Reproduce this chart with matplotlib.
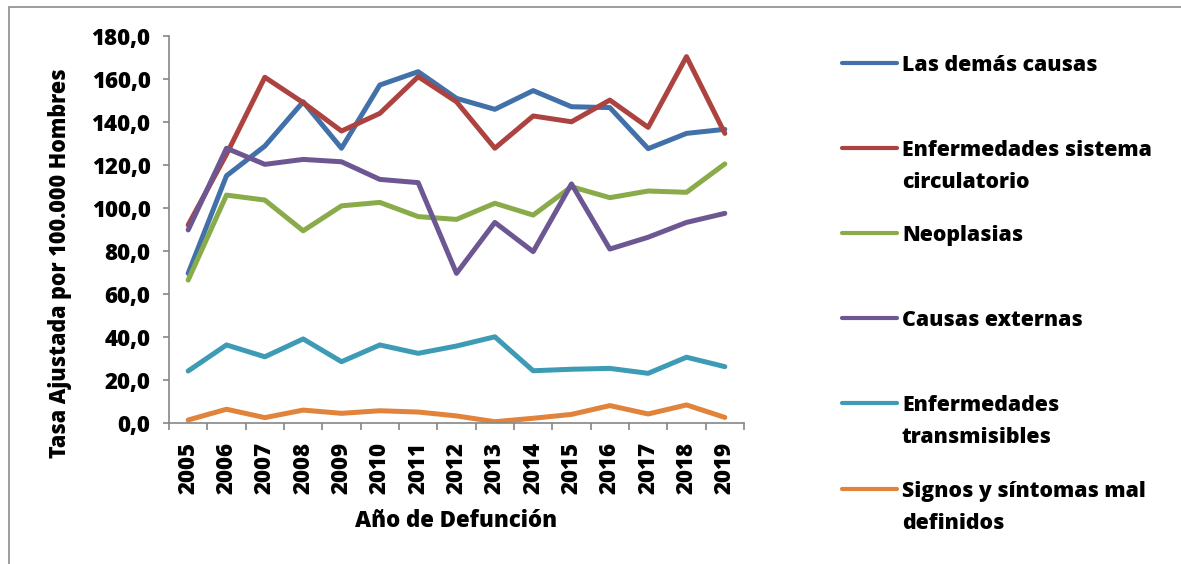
import matplotlib
matplotlib.use("Agg")
import matplotlib.pyplot as plt
from matplotlib.lines import Line2D
from matplotlib.patches import Rectangle

plt.rcParams['font.family'] = ['Open Sans', 'DejaVu Sans']
plt.rcParams['font.weight'] = 'bold'

years = ['2005', '2006', '2007', '2008', '2009', '2010', '2011', '2012',
         '2013', '2014', '2015', '2016', '2017', '2018', '2019']

demas_causas = [69.6, 115.0, 128.8, 149.4, 127.8, 157.2, 163.4, 151.0,
                145.9, 154.6, 147.1, 146.7, 127.6, 134.7, 136.6]
circulatorio = [92.1, 125.0, 160.8, 149.0, 135.8, 144.0, 161.1, 149.4,
                127.8, 142.8, 140.1, 150.2, 137.5, 170.4, 134.7]
neoplasias = [66.5, 106.0, 103.7, 89.4, 101.0, 102.6, 96.0, 94.7,
              102.2, 96.7, 109.9, 104.8, 107.9, 107.3, 120.5]
externas = [89.8, 127.8, 120.3, 122.6, 121.5, 113.3, 111.8, 69.6,
            93.3, 79.7, 111.2, 80.9, 86.4, 93.3, 97.5]
transmisibles = [24.2, 36.3, 30.8, 39.1, 28.5, 36.3, 32.4, 35.8,
                 40.1, 24.3, 25.0, 25.4, 23.1, 30.6, 26.2]
mal_definidos = [1.4, 6.4, 2.5, 6.0, 4.5, 5.7, 5.1, 3.3,
                 0.6, 2.2, 4.0, 8.1, 4.2, 8.4, 2.6]

series = [
    ('Las demás causas', demas_causas, '#4271AA'),
    ('Enfermedades sistema\ncirculatorio', circulatorio, '#AD4340'),
    ('Neoplasias', neoplasias, '#8AAB4A'),
    ('Causas externas', externas, '#6D5792'),
    ('Enfermedades\ntransmisibles', transmisibles, '#3E9BB5'),
    ('Signos y síntomas mal\ndefinidos', mal_definidos, '#E1833A'),
]

W, H = 1181, 564
fig = plt.figure(figsize=(W / 100, H / 100), dpi=100)
ax = fig.add_axes([169 / W, 1 - 423 / H, 575 / W, 387 / H])

x = list(range(len(years)))
for name, vals, col in series:
    ax.plot(x, vals, color=col, lw=3.6, solid_capstyle='round', solid_joinstyle='round')

ax.set_xlim(-0.5, len(years) - 0.5)
ax.set_ylim(0, 180)
ax.set_yticks(range(0, 181, 20))
ax.set_yticklabels([f'{v},0' for v in range(0, 181, 20)])
ax.set_xticks(x)
ax.set_xticklabels(years, rotation=90)
ax.set_xticks([i - 0.5 for i in range(len(years) + 1)], minor=True)

for s in ['top', 'right']:
    ax.spines[s].set_visible(False)
for s in ['left', 'bottom']:
    ax.spines[s].set_color('#868686')
    ax.spines[s].set_linewidth(1.2)

ax.tick_params(axis='y', length=4.3, width=1.2, color='#868686', pad=9, labelsize=16)
ax.tick_params(axis='x', which='major', length=0, pad=13.5, labelsize=16)
ax.tick_params(axis='x', which='minor', length=5, width=1.2, color='#868686')
for lab in ax.get_xticklabels() + ax.get_yticklabels():
    lab.set_fontweight('heavy')

ax.set_ylabel('Tasa Ajustada por 100.000 Hombres', fontsize=15.5, fontweight='heavy')
ax.yaxis.set_label_coords(-0.169, 0.413)
fig.text(456.5 / W, 1 - 527 / H, 'Año de Defunción', fontsize=16, fontweight='heavy',
         ha='center', va='baseline')

# legend drawn by hand, line aligned with the first text row
leg_y = [63.3, 148.3, 233.3, 318.3, 403.3, 489.3]
for (name, vals, col), ly in zip(series, leg_y):
    fig.add_artist(Line2D([842 / W, 897 / W], [1 - ly / H, 1 - ly / H], color=col, lw=3,
                          solid_capstyle='round', transform=fig.transFigure))
    for k, row in enumerate(name.split('\n')):
        fig.text(902 / W, 1 - (ly + 7.4 + 32 * k) / H, row, fontsize=15.3,
                 fontweight='heavy', ha='left', va='baseline')

# outer frame
fig.add_artist(Rectangle((9 / W, -0.1), 1.2, 1 - 7 / H + 0.1, transform=fig.transFigure,
                         fill=False, edgecolor='#8c8c8c', lw=1.2))

fig.savefig('out.png', dpi=100)
